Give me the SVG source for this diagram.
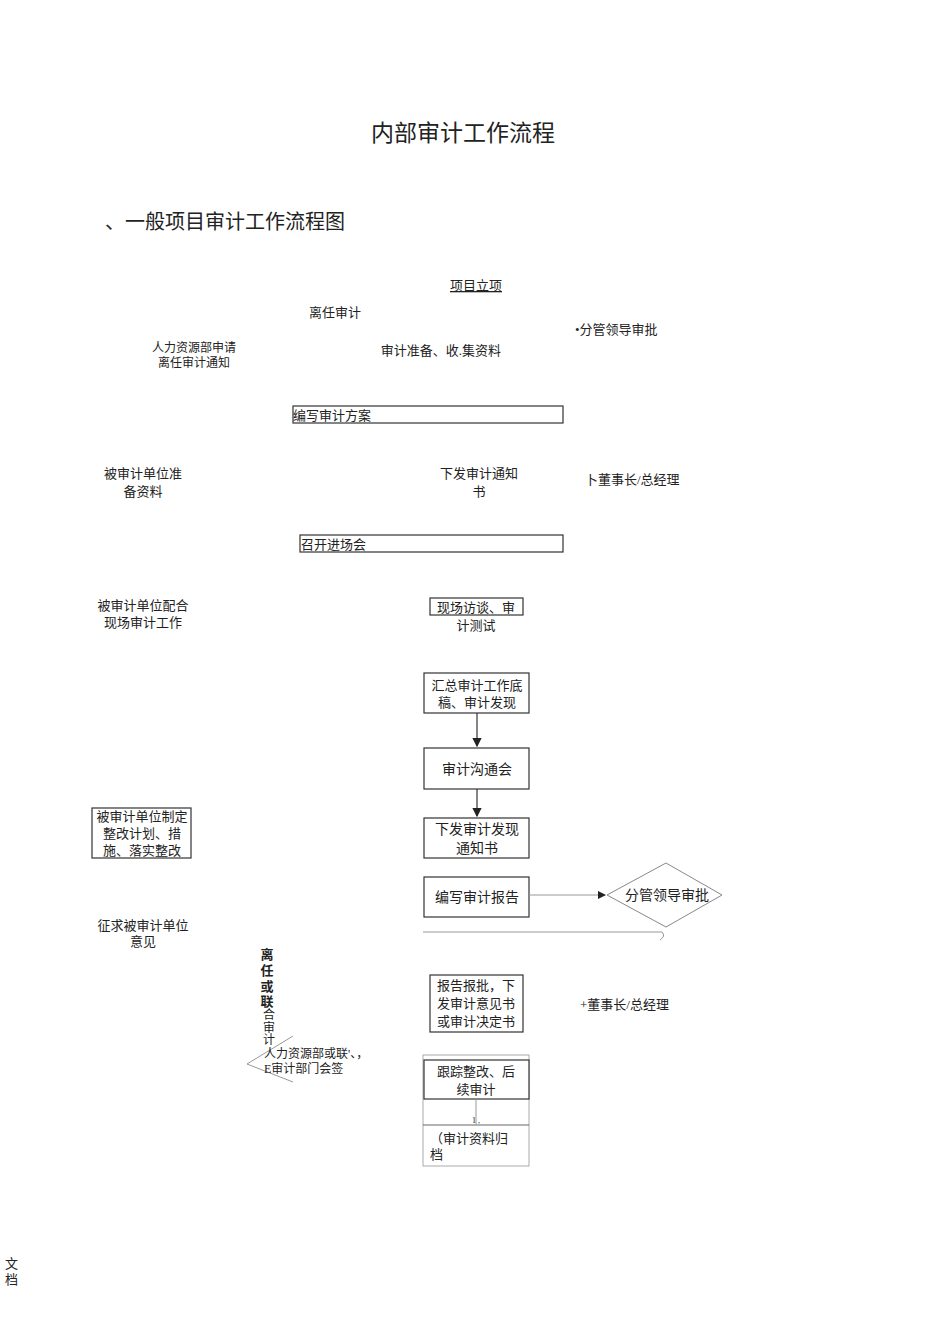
<svg xmlns="http://www.w3.org/2000/svg" width="950" height="1344" viewBox="0 0 950 1344">
<style>
text{font-family:"Liberation Serif","Noto Sans CJK SC",serif;fill:#222;font-size:13px}
.c{text-anchor:middle}
.b{fill:#fff;stroke:#333;stroke-width:1.2}
.t{font-size:14px}
.l{stroke:#333;stroke-width:1.2;fill:none}
.g{stroke:#999;stroke-width:1;fill:none}
</style>
<defs><marker id="a" markerWidth="8" markerHeight="8" refX="7" refY="4" orient="auto"><path d="M0,0L8,4L0,8z" fill="#222"/></marker></defs>
<rect width="950" height="1344" fill="#fff"/>
<text x="463" y="141" class="c" style="font-size:23px">内部审计工作流程</text>
<text x="105" y="229" style="font-size:20px">、一般项目审计工作流程图</text>
<g id="n1"><text x="476" y="290" class="c" style="text-decoration:underline">项目立项</text></g>
<g id="n2"><text x="335" y="317" class="c">离任审计</text></g>
<g id="n3"><text x="575" y="334">•分管领导审批</text></g>
<g id="n4"><text x="194" y="352" class="c" style="font-size:12px">人力资源部申请</text><text x="194" y="367" class="c" style="font-size:12px">离任审计通知</text></g>
<g id="n5"><text x="441" y="355" class="c">审计准备、收.集资料</text></g>
<g id="n6"><rect x="293" y="406" width="270" height="17" class="b"/><text x="293" y="420">编写审计方案</text></g>
<g id="n7"><text x="143" y="478" class="c">被审计单位准</text><text x="143" y="496" class="c">备资料</text></g>
<g id="n8"><text x="479" y="478" class="c">下发审计通知</text><text x="479" y="496" class="c">书</text></g>
<g id="n9"><text x="585" y="484">卜董事长/总经理</text></g>
<g id="n10"><rect x="300" y="535" width="263" height="17" class="b"/><text x="301" y="549">召开进场会</text></g>
<g id="n11"><text x="143" y="610" class="c">被审计单位配合</text><text x="143" y="627" class="c">现场审计工作</text></g>
<g id="n12"><rect x="430" y="598" width="93" height="17" class="b"/><text x="476" y="612" class="c">现场访谈、审</text><text x="476" y="630" class="c">计测试</text></g>
<g id="n13"><rect x="424" y="673" width="105" height="40" class="b"/><text x="477" y="690" class="c">汇总审计工作底</text><text x="477" y="707" class="c">稿、审计发现</text></g>
<g id="n14"><rect x="424" y="748" width="105" height="41" class="b"/><text x="477" y="774" class="c t">审计沟通会</text></g>
<g id="n15"><rect x="424" y="818" width="105" height="40" class="b"/><text x="477" y="834" class="c t">下发审计发现</text><text x="477" y="853" class="c t">通知书</text></g>
<g id="n16"><rect x="92" y="808" width="99" height="50" class="b"/><text x="142" y="821" class="c">被审计单位制定</text><text x="142" y="838" class="c">整改计划、措</text><text x="142" y="855" class="c">施、落实整改</text></g>
<g id="n17"><rect x="424" y="877" width="105" height="40" class="b"/><text x="477" y="902" class="c t">编写审计报告</text></g>
<g id="n18"><polygon points="607,895 666,863 722,895 666,927" fill="#fff" stroke="#888"/><text x="667" y="900" class="c t">分管领导审批</text></g>
<g id="n19"><text x="143" y="930" class="c">征求被审计单位</text><text x="143" y="946" class="c">意见</text></g>
<g id="n20"><text x="267" y="959" class="c" style="font-weight:bold">离</text><text x="267" y="975" class="c" style="font-weight:bold">任</text><text x="267" y="991" class="c" style="font-weight:bold">或</text><text x="267" y="1006" class="c" style="font-weight:bold">联</text><text x="269" y="1019" class="c" style="font-size:12px">合</text><text x="269" y="1032" class="c" style="font-size:12px">审</text><text x="269" y="1044" class="c" style="font-size:12px">计</text>
<path d="M293,1036L247,1064L293,1082" class="g"/><text x="264" y="1058" style="font-size:12px">人力资源部或联'、，</text><text x="264" y="1073" style="font-size:12px">E审计部门会签</text></g>
<g id="n21"><rect x="430" y="975" width="93" height="57" class="b"/><text x="476" y="990" class="c">报告报批，下</text><text x="476" y="1008" class="c">发审计意见书</text><text x="476" y="1026" class="c">或审计决定书</text></g>
<g id="n22"><text x="580" y="1009">+董事长/总经理</text></g>
<g id="n23"><rect x="423" y="1055" width="106" height="111" fill="none" stroke="#aaa"/><rect x="424" y="1060" width="105" height="39" class="b"/><text x="476" y="1076" class="c">跟踪整改、后</text><text x="476" y="1094" class="c">续审计</text><line x1="423" y1="1125" x2="529" y2="1125" stroke="#666"/><text x="472" y="1123" style="font-size:8px">1 ,</text><text x="430" y="1143">（审计资料归</text><text x="430" y="1159">档</text></g>
<g id="connectors">
<line x1="477" y1="713" x2="477" y2="746" class="l" marker-end="url(#a)"/>
<line x1="477" y1="789" x2="477" y2="816" class="l" marker-end="url(#a)"/>
<line x1="529" y1="895" x2="605" y2="895" class="g" marker-end="url(#a)"/>
<path d="M423,932L662,932Q666,936 660,940" class="g" stroke-width="2"/>
<line x1="476" y1="1099" x2="476" y2="1125" class="g"/>
</g>
<text x="5" y="1268">文</text><text x="5" y="1284">档</text>
</svg>
